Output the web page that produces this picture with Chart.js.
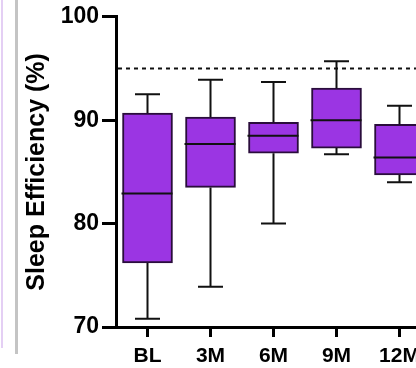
<!DOCTYPE html>
<html>
<head>
<meta charset="utf-8">
<script src="https://cdn.jsdelivr.net/npm/chart.js@4.4.1/dist/chart.umd.min.js"></script>
<style>
  html, body { margin: 0; padding: 0; background: #fff; overflow: hidden; }
  #wrap { position: relative; width: 416px; height: 368px; overflow: hidden; }
  #box { position: absolute; left: 0; top: 0; width: 445px; height: 368px; }
  .edge { position: absolute; top: 0; }
</style>
</head>
<body>
<div id="wrap">
  <div class="edge" style="left:1px;width:2px;height:348px;background:#e4cff4;"></div>
  <div class="edge" style="left:15px;width:3px;height:354px;background:#c4c4c4;"></div>
  <div id="box"><canvas id="myChart" width="445" height="368"></canvas></div>
</div>
<script>
// values
var categories = ['BL', '3M', '6M', '9M', '12M'];
var whiskerLow  = [70.8, 73.9, 80.0, 86.7, 84.0];
var q1          = [76.2, 83.5, 86.8, 87.3, 84.7];
var median      = [82.9, 87.7, 88.5, 90.0, 86.4];
var q3          = [90.7, 90.3, 89.8, 93.1, 89.6];
var whiskerHigh = [92.5, 93.9, 93.7, 95.7, 91.4];
var yTicks = [70, 80, 90, 100];
var refLine = 95;

var boxes = [];
for (var i = 0; i < categories.length; i++) {
  boxes.push([q1[i], q3[i]]);
}

// whiskers, medians and the dashed line, placed with the chart's own scales
var boxExtras = {
  id: 'boxExtras',
  afterDatasetsDraw: function(chart) {
    var ctx = chart.ctx;
    var x = chart.scales.x, y = chart.scales.y;
    var area = chart.chartArea;
    ctx.save();
    // dashed reference line
    ctx.strokeStyle = '#111';
    ctx.lineWidth = 2;
    ctx.setLineDash([4, 4]);
    ctx.beginPath();
    ctx.moveTo(area.left + 2, y.getPixelForValue(refLine));
    ctx.lineTo(area.right, y.getPixelForValue(refLine));
    ctx.stroke();
    ctx.setLineDash([]);

    ctx.strokeStyle = '#111';
    ctx.lineWidth = 2;
    var meta = chart.getDatasetMeta(0);
    for (var i = 0; i < categories.length; i++) {
      var cx = x.getPixelForValue(i);
      var half = meta.data[i].width / 2;
      var cap = 12.5;
      ctx.beginPath();
      // upper whisker
      ctx.moveTo(cx, y.getPixelForValue(q3[i]));
      ctx.lineTo(cx, y.getPixelForValue(whiskerHigh[i]));
      ctx.moveTo(cx - cap, y.getPixelForValue(whiskerHigh[i]));
      ctx.lineTo(cx + cap, y.getPixelForValue(whiskerHigh[i]));
      // lower whisker
      ctx.moveTo(cx, y.getPixelForValue(q1[i]));
      ctx.lineTo(cx, y.getPixelForValue(whiskerLow[i]));
      ctx.moveTo(cx - cap, y.getPixelForValue(whiskerLow[i]));
      ctx.lineTo(cx + cap, y.getPixelForValue(whiskerLow[i]));
      // median
      ctx.moveTo(cx - half - 1, y.getPixelForValue(median[i]));
      ctx.lineTo(cx + half, y.getPixelForValue(median[i]));
      ctx.stroke();
    }
    ctx.restore();
  }
};

var ctx = document.getElementById('myChart').getContext('2d');
var chart = new Chart(ctx, {
  type: 'bar',
  data: {
    labels: categories,
    datasets: [{
      label: 'Sleep Efficiency',
      data: boxes,
      backgroundColor: '#9b35e3',
      borderColor: '#2a0d3c',
      borderWidth: 2,
      borderSkipped: false,
      barThickness: 50
    }]
  },
  options: {
    responsive: false,
    animation: false,
    devicePixelRatio: 1,
    layout: { padding: { top: 15, right: 14, bottom: 0, left: 0 } },
    plugins: {
      legend: { display: false },
      tooltip: { enabled: false }
    },
    scales: {
      y: {
        min: 70,
        max: 100,
        afterFit: function(scale) { scale.width = 116; },
        afterBuildTicks: function(scale) {
          scale.ticks = yTicks.map(function(v) { return { value: v }; });
        },
        border: { display: true, color: '#000', width: 3 },
        grid: { display: true, drawOnChartArea: false, drawTicks: true, tickLength: 14, color: '#000', lineWidth: 3 },
        ticks: { color: '#000', padding: 3, font: { family: 'Liberation Sans', weight: 'bold', size: 23 } },
        title: {
          display: true,
          text: 'Sleep Efficiency (%)',
          color: '#000',
          padding: { top: 22, bottom: 0 },
          font: { family: 'Liberation Sans', weight: 'bold', size: 25 }
        }
      },
      x: {
        offset: true,
        afterFit: function(scale) { scale.height = 41; },
        border: { display: true, color: '#000', width: 3 },
        grid: { display: true, offset: false, drawOnChartArea: false, drawTicks: true, tickLength: 10, color: '#000', lineWidth: 3 },
        ticks: { color: '#000', padding: 7, maxRotation: 0, font: { family: 'Liberation Sans', weight: 'bold', size: 21 } }
      }
    }
  },
  plugins: [boxExtras]
});
</script>
</body>
</html>
